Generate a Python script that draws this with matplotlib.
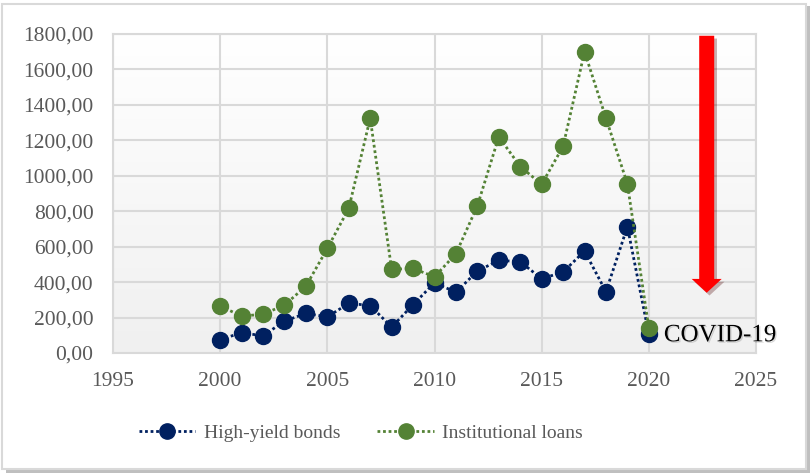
import numpy as np
import matplotlib
matplotlib.use("Agg")
import matplotlib.pyplot as plt
from matplotlib.patches import FancyArrow, Rectangle
import matplotlib.patheffects as pe
from matplotlib.lines import Line2D

years = list(range(2000, 2021))
high_yield = [76, 114, 97, 180, 223, 204, 280, 268, 146, 273, 396, 343, 462,
              523, 515, 419, 457, 575, 346, 713, 105]
inst_loans = [265, 208, 219, 270, 377, 590, 816, 1325, 472, 477, 430, 560, 830,
              1220, 1052, 952, 1166, 1700, 1325, 954, 140]
series_names = ["High-yield bonds", "Institutional loans"]
series_colors = ["#002060", "#548235"]
x_ticks = [1995, 2000, 2005, 2010, 2015, 2020, 2025]
y_ticks = [0, 200, 400, 600, 800, 1000, 1200, 1400, 1600, 1800]

SERIF = ["Liberation Serif", "DejaVu Serif"]
TICK_COLOR = "#595959"
GRID_COLOR = "#d9d9d9"

fig = plt.figure(figsize=(8.11, 4.75), dpi=100)
fig.patch.set_facecolor("white")

# outer frame with a soft shadow
fig.patches.append(Rectangle((6 / 811, 1 - 473 / 475), 804 / 811, 467 / 475,
                             transform=fig.transFigure, facecolor="#bfbfbf",
                             edgecolor="none", zorder=-3))
fig.patches.append(Rectangle((2 / 811, 1 - 469 / 475), 804 / 811, 465 / 475,
                             transform=fig.transFigure, facecolor="white",
                             edgecolor="#d9d9d9", linewidth=1.5, zorder=-2))

ax = fig.add_axes([113 / 811, 1 - 353 / 475, 643 / 811, 319 / 475])
ax.set_xlim(1995, 2025)
ax.set_ylim(0, 1800)

# gradient plot background: white at the top, light grey at the bottom
grad = np.linspace(1.0, 0.0, 256).reshape(-1, 1)
ax.imshow(grad, extent=[0, 1, 0, 1], transform=ax.transAxes, aspect="auto",
          cmap=matplotlib.colors.LinearSegmentedColormap.from_list(
              "bg", ["#f0f0f0", "#ffffff"]), vmin=0, vmax=1, zorder=0)

ax.set_xticks(x_ticks)
ax.set_yticks(y_ticks)
ax.set_yticklabels([f"{v:.2f}".replace(".", ",") for v in y_ticks])
ax.grid(True, color=GRID_COLOR, linewidth=1.5, zorder=1)
for s in ax.spines.values():
    s.set_color(GRID_COLOR)
    s.set_linewidth(1.5)
ax.tick_params(length=0, pad=14, labelcolor=TICK_COLOR, labelsize=15.5)
for lab in ax.get_xticklabels() + ax.get_yticklabels():
    lab.set_fontfamily(SERIF)

for vals, name, col in zip([high_yield, inst_loans], series_names, series_colors):
    ax.plot(years, vals, linestyle=(0, (1, 1)), linewidth=2, color=col,
            marker="o", markersize=11.5, markerfacecolor=col,
            markeredgecolor=col, label=name, zorder=3, clip_on=False)

# downward red arrow marking the COVID-19 drop
arrow = FancyArrow(2022.7, 1790, 0, -1450, width=0.7, head_width=1.4,
                   head_length=78, length_includes_head=True,
                   facecolor="#ff0000", edgecolor="none", zorder=4)
arrow.set_path_effects([pe.SimplePatchShadow(offset=(2, -2), alpha=0.3),
                        pe.Normal()])
ax.add_patch(arrow)

ax.text(2020.7, 100, "COVID-19", fontsize=18, family=SERIF, color="black",
        va="center", ha="left", zorder=5,
        path_effects=[pe.withSimplePatchShadow(offset=(1, -1), alpha=0.15)])

handles = [Line2D([0], [0], linestyle=(0, (1, 1)), linewidth=2, color=c,
                  marker="o", markersize=11) for c in series_colors]
leg = fig.legend(handles, series_names, loc="center",
                 bbox_to_anchor=(361 / 811, 1 - 433 / 475), ncol=2, frameon=False,
                 prop={"family": SERIF, "size": 14}, handlelength=2.9,
                 columnspacing=1.9, handletextpad=0.45)
for t in leg.get_texts():
    t.set_color(TICK_COLOR)

fig.savefig("out.png", dpi=100)
